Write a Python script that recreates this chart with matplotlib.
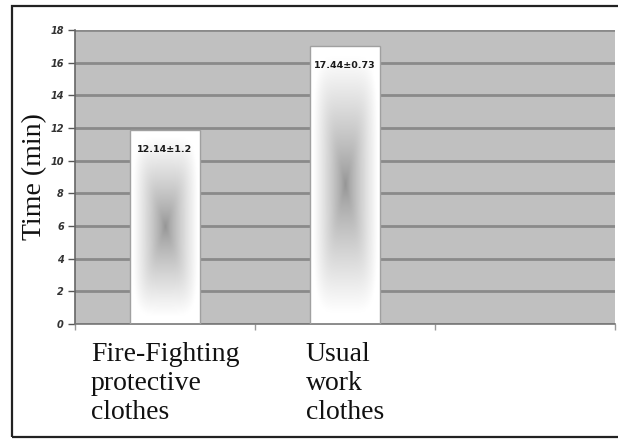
import matplotlib
matplotlib.use("Agg")
import matplotlib.pyplot as plt
import numpy as np
from matplotlib.patches import Rectangle

# ---- data ----
categories = ["Fire-Fighting\nprotective\nclothes", "Usual\nwork\nclothes"]
bar_heights = [11.9, 17.05]
value_labels = ["12.14±1.2", "17.44±0.73"]
y_ticks = [0, 2, 4, 6, 8, 10, 12, 14, 16, 18]
y_label = "Time (min)"
n_slots = 3

W, H, DPI = 618, 444, 100
fig = plt.figure(figsize=(W / DPI, H / DPI), dpi=DPI)
fig.patch.set_facecolor("white")

# outer frame
fig.patches.append(Rectangle((12 / W, 1 - 437 / H), 0.99, (437 - 6) / H,
                             transform=fig.transFigure, fill=False,
                             edgecolor="#222222", lw=1.6, zorder=0))

ax = fig.add_axes([75 / W, 1 - 324 / H, (615 - 75) / W, (324 - 30) / H])
ax.set_facecolor("#c0c0c0")

# grid
ax.set_yticks(y_ticks)
ax.yaxis.grid(True, color="#8a8a8a", lw=2.0, zorder=1)
ax.set_axisbelow(True)

# bars with centre gradient
x = np.arange(len(bar_heights))
bars = ax.bar(x, bar_heights, width=0.39, color="none",
              edgecolor="#a0a0a0", lw=1.0, zorder=3)
nx, ny = 80, 240
u = np.linspace(-1, 1, nx)
v = np.linspace(-1, 1, ny)
U, V = np.meshgrid(u, v)
p = 5.0
t = (np.abs(U) ** p + np.abs(V) ** p) ** (1 / p)
inten = 0.58 + 0.42 * np.clip(t / 0.92, 0, 1) ** 0.8
img = np.dstack([inten, inten, inten])
for b in bars:
    x0, y0 = b.get_x(), b.get_y()
    w, h = b.get_width(), b.get_height()
    im = ax.imshow(img, extent=[x0, x0 + w, y0, y0 + h], aspect="auto",
                   zorder=2, interpolation="bilinear")
    im.set_clip_path(b)

ax.set_xlim(-0.5, n_slots - 0.5)
ax.set_ylim(0, 18)

# value labels
for xi, hgt, lab in zip(x, bar_heights, value_labels):
    ax.annotate(lab, (xi, hgt), xytext=(0, -20), textcoords="offset pixels",
                ha="center", va="center", fontsize=6.8, fontweight="bold",
                color="#1a1a1a", zorder=5, family="Liberation Sans Narrow")

# y ticks
ax.set_yticklabels([str(v_) for v_ in y_ticks], fontsize=7,
                   fontweight="bold", fontstyle="italic", color="#333333")
ax.tick_params(axis="y", length=5, width=1.0, color="#555555", pad=3)

# x ticks: boundaries (major), labels (minor)
ax.set_xticks(np.arange(-0.5, n_slots, 1.0))
ax.set_xticklabels([])
ax.tick_params(axis="x", which="major", length=4, width=1.0,
               color="#999999", direction="out")
ax.set_xticks(x, minor=True)
ax.set_xticklabels(categories, minor=True, fontsize=20,
                   family="Liberation Serif", color="#111111",
                   multialignment="left", linespacing=1.2)
ax.tick_params(axis="x", which="minor", length=0, pad=13)

ax.set_ylabel(y_label, fontsize=20, family="Liberation Serif",
              color="#111111", labelpad=2)

for s in ["top", "right"]:
    ax.spines[s].set_visible(False)
ax.spines["left"].set_color("#666666")
ax.spines["bottom"].set_color("#777777")
ax.spines["left"].set_linewidth(1.2)
ax.spines["bottom"].set_linewidth(1.2)

fig.savefig("out.png", dpi=DPI)
